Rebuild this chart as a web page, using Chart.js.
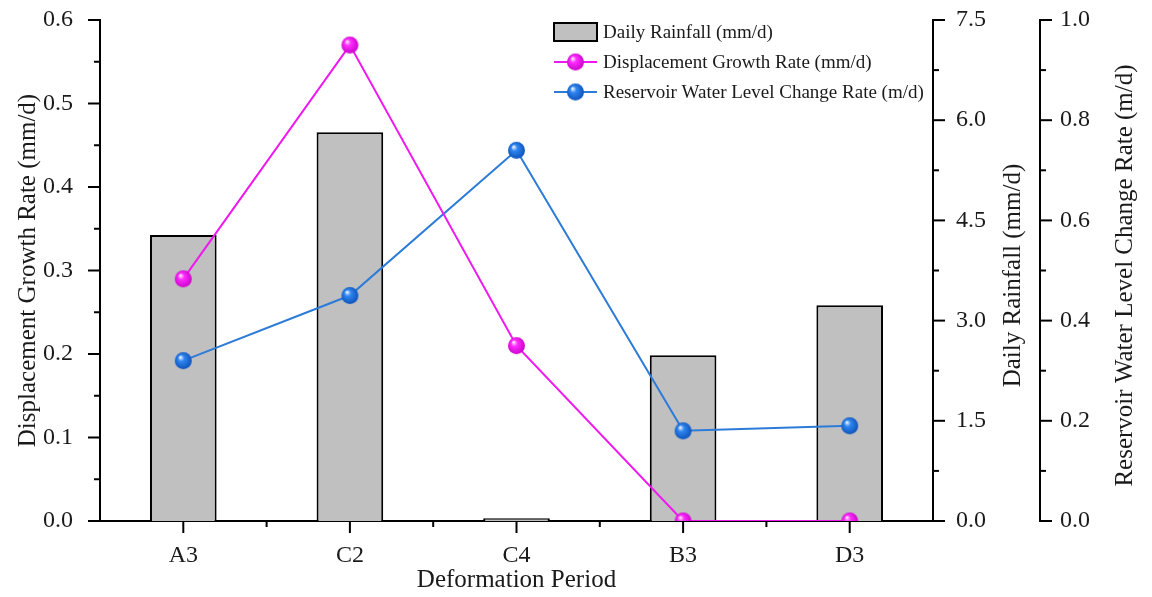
<!DOCTYPE html>
<html>
<head>
<meta charset="utf-8">
<script src="https://cdn.jsdelivr.net/npm/chart.js@4.4.1/dist/chart.umd.min.js"></script>
<style>
  html, body { margin: 0; padding: 0; background: #ffffff; }
  #wrap { width: 1152px; height: 597px; position: relative; }
</style>
</head>
<body>
<div id="wrap"><canvas id="chart"></canvas></div>
<script>
const periods = ['A3', 'C2', 'C4', 'B3', 'D3']
const dailyRainfall = [4.28, 5.82, 0.04, 2.48, 3.23]
const displacementRate = [0.29, 0.57, 0.21, 0.0, 0.0]
const reservoirRate = [0.32, 0.45, 0.74, 0.18, 0.19]

const displacementTicks = [0, 0.1, 0.2, 0.3, 0.4, 0.5, 0.6]
const rainfallTicks = [0, 1.5, 3.0, 4.5, 6.0, 7.5]
const reservoirTicks = [0, 0.2, 0.4, 0.6, 0.8, 1.0]

const FONT = "'Liberation Serif', 'Times New Roman', serif"
const INK = '#1a1a1a'
const MAGENTA = '#f018f0'
const BLUE = '#2c7bd8'

// little shaded ball used as point marker
function makeBall(light, base, dark) {
  const r = 8.5
  const c = document.createElement('canvas')
  c.width = c.height = 19
  const g = c.getContext('2d')
  const grad = g.createRadialGradient(r - 2, r - 2.5, 0.5, r + 1, r + 1, r + 1)
  grad.addColorStop(0, light)
  grad.addColorStop(0.3, base)
  grad.addColorStop(1, dark)
  g.fillStyle = grad
  g.beginPath()
  g.arc(9.5, 9.5, r, 0, Math.PI * 2)
  g.fill()
  return c
}
const pinkBall = makeBall('#ffe6ff', '#ff2cff', '#c400c4')
const blueBall = makeBall('#e6f0ff', '#2f86f0', '#0a4db5')

const setTicks = list => scale => { scale.ticks = list.map(v => ({ value: v })) }
const fmt = v => Number(v).toFixed(1)
// fixed axis box sizes so the plot area lines up with the picture
const fitY = w => s => { s.width = w; s.paddingTop = 0; s.paddingBottom = 0 }

const decor = {
  id: 'decor',
  afterDraw(chart) {
    const ctx = chart.ctx
    const { x, y, y1, y2 } = chart.scales
    const area = chart.chartArea
    ctx.save()
    ctx.strokeStyle = '#000'
    ctx.lineWidth = 2

    // y axis ticks, major + minor
    const yTicks = (scale, list, dir) => {
      const edge = dir < 0 ? scale.right : scale.left
      list.forEach((v, i) => {
        const p = scale.getPixelForValue(v)
        ctx.beginPath(); ctx.moveTo(edge, p); ctx.lineTo(edge + dir * 12, p); ctx.stroke()
        if (i < list.length - 1) {
          const m = scale.getPixelForValue((v + list[i + 1]) / 2)
          ctx.beginPath(); ctx.moveTo(edge, m); ctx.lineTo(edge + dir * 6, m); ctx.stroke()
        }
      })
    }
    yTicks(y, displacementTicks, -1)
    yTicks(y1, rainfallTicks, 1)
    yTicks(y2, reservoirTicks, 1)

    // x ticks
    periods.forEach((p, i) => {
      const px = x.getPixelForTick(i)
      ctx.beginPath(); ctx.moveTo(px, area.bottom); ctx.lineTo(px, area.bottom + 12); ctx.stroke()
      if (i < periods.length - 1) {
        const m = (px + x.getPixelForTick(i + 1)) / 2
        ctx.beginPath(); ctx.moveTo(m, area.bottom); ctx.lineTo(m, area.bottom + 6); ctx.stroke()
      }
    })

    // right axis titles read bottom-to-top
    const midY = (area.top + area.bottom) / 2 + 5
    ctx.fillStyle = INK
    ctx.font = '25px ' + FONT
    ctx.textAlign = 'center'
    ctx.textBaseline = 'middle'
    ;[[y1.left + 80, 'Daily Rainfall (mm/d)'], [y2.left + 85, 'Reservoir Water Level Change Rate (m/d)']].forEach(([tx, t]) => {
      ctx.save()
      ctx.translate(tx, midY)
      ctx.rotate(-Math.PI / 2)
      ctx.fillText(t, 0, 0)
      ctx.restore()
    })

    // legend inside the plot
    const ds = chart.data.datasets
    const lx = 554, tx = 603
    const rows = [32, 62, 92]
    ctx.font = '19px ' + FONT
    ctx.textAlign = 'left'
    ctx.fillStyle = ds[0].backgroundColor
    ctx.fillRect(lx, rows[0] - 9, 43, 18)
    ctx.strokeRect(lx, rows[0] - 9, 43, 18)
    ;[ds[1], ds[2]].forEach((d, i) => {
      const ry = rows[i + 1]
      ctx.strokeStyle = d.borderColor
      ctx.beginPath(); ctx.moveTo(lx, ry); ctx.lineTo(lx + 43, ry); ctx.stroke()
      ctx.drawImage(d.pointStyle, lx + 21.5 - d.pointStyle.width / 2, ry - d.pointStyle.height / 2)
    })
    ctx.fillStyle = INK
    ds.forEach((d, i) => ctx.fillText(d.label, tx, rows[i] + 1))
    ctx.restore()
  }
}

new Chart(document.getElementById('chart'), {
  type: 'bar',
  data: {
    labels: periods,
    datasets: [
      {
        type: 'bar',
        label: 'Daily Rainfall (mm/d)',
        data: dailyRainfall,
        yAxisID: 'y1',
        backgroundColor: '#c0c0c0',
        borderColor: '#000',
        borderWidth: 2,
        borderSkipped: 'start',
        barPercentage: 0.4,
        categoryPercentage: 1,
        order: 3
      },
      {
        type: 'line',
        label: 'Displacement Growth Rate (mm/d)',
        data: displacementRate,
        yAxisID: 'y',
        borderColor: MAGENTA,
        borderWidth: 2,
        pointStyle: pinkBall,
        pointRadius: 8,
        tension: 0,
        order: 1
      },
      {
        type: 'line',
        label: 'Reservoir Water Level Change Rate (m/d)',
        data: reservoirRate,
        yAxisID: 'y2',
        borderColor: BLUE,
        borderWidth: 2,
        pointStyle: blueBall,
        pointRadius: 8,
        tension: 0,
        order: 2
      }
    ]
  },
  options: {
    responsive: true,
    maintainAspectRatio: false,
    animation: false,
    layout: { padding: { top: 20, left: 0, right: 0, bottom: 0 } },
    plugins: {
      legend: { display: false },
      tooltip: { enabled: false }
    },
    scales: {
      x: {
        offset: true,
        grid: { display: false, drawTicks: false },
        border: { color: '#000', width: 2 },
        ticks: { color: INK, font: { family: FONT, size: 24 }, padding: 20 },
        title: {
          display: true,
          text: 'Deformation Period',
          color: INK,
          font: { family: FONT, size: 25 },
          padding: { top: 0, bottom: 2 }
        },
        afterFit: s => { s.height = 76; s.paddingLeft = 0; s.paddingRight = 0 }
      },
      y: {
        position: 'left',
        min: 0,
        max: 0.6,
        afterBuildTicks: setTicks(displacementTicks),
        grid: { display: false, drawTicks: false },
        border: { color: '#000', width: 2 },
        ticks: { color: INK, font: { family: FONT, size: 24 }, padding: 27, callback: fmt },
        title: {
          display: true,
          text: 'Displacement Growth Rate (mm/d)',
          color: INK,
          font: { family: FONT, size: 25 },
          padding: { top: 13, bottom: 0 }
        },
        afterFit: fitY(100)
      },
      y1: {
        position: 'right',
        weight: 0,
        min: 0,
        max: 7.5,
        afterBuildTicks: setTicks(rainfallTicks),
        grid: { display: false, drawTicks: false },
        border: { color: '#000', width: 2 },
        ticks: { color: INK, font: { family: FONT, size: 24 }, padding: 23, callback: fmt },
        afterFit: fitY(107)
      },
      y2: {
        position: 'right',
        weight: 1,
        min: 0,
        max: 1,
        afterBuildTicks: setTicks(reservoirTicks),
        grid: { display: false, drawTicks: false },
        border: { color: '#000', width: 2 },
        ticks: { color: INK, font: { family: FONT, size: 24 }, padding: 20, callback: fmt },
        afterFit: fitY(112)
      }
    }
  },
  plugins: [decor]
})
</script>
</body>
</html>
